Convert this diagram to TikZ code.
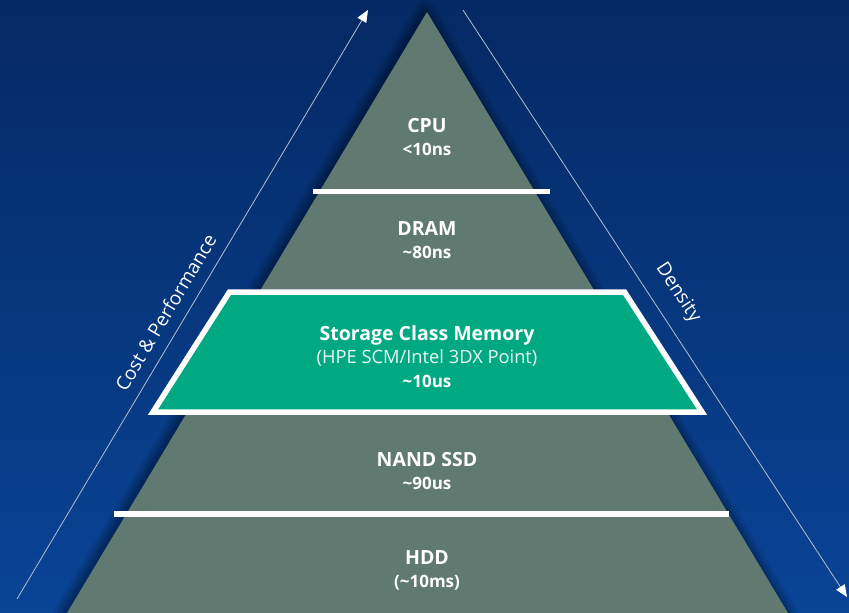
\documentclass[tikz,border=0pt]{standalone}
\usepackage{fontspec}
\setmainfont{Open Sans}
\usepackage{xcolor}
\usetikzlibrary{arrows.meta, positioning}

\definecolor{bgtop}{RGB}{5,41,100}
\definecolor{bgbot}{RGB}{9,68,150}
\definecolor{pyrgray}{RGB}{96,122,114}
\definecolor{scmgreen}{RGB}{1,169,130}

\begin{document}
\begin{tikzpicture}[
x=1pt, y=-1pt,
node distance = 11pt,
tier/.style = {text=white, inner sep=0pt, text height=14pt, text depth=0pt,
               font=\fontsize{19.5}{22}\selectfont\bfseries},
sub/.style = {text=white, inner sep=0pt, text height=12pt, text depth=0pt,
              font=\fontsize{17}{20}\selectfont\bfseries},
subreg/.style = {sub, text=white!92!scmgreen, font=\fontsize{18.3}{20}\selectfont},
axis/.style = {draw=white!70!bgtop, line width=0.8pt,
               -{Triangle[length=12pt, width=10pt, color=white]}},
axislabel/.style = {text=white, inner sep=0pt, sloped,
                    font=\fontsize{19}{22}\selectfont},
bar/.style = {draw=white, line width=5pt},
                        ]
\useasboundingbox (0,0) rectangle (849,613);
\fill[top color=bgtop, bottom color=bgbot] (0,0) rectangle (849,613);

\coordinate (apex)  at (427,12);
\coordinate (baseL) at (67,613);
\coordinate (baseR) at (788,613);

% soft shadow round the pyramid
\foreach \w in {22,16,11,7,4}
  \draw[black, opacity=0.08, line width=\w pt, line join=round]
    ([xshift=-2pt]apex) -- ([xshift=-2pt]baseL) -- ([xshift=-2pt]baseR) -- cycle;
\fill[pyrgray] (apex) -- (baseL) -- (baseR) -- cycle;

\draw[bar] (313,191) -- (550,191);
\draw[bar, line width=6pt] (114,514) -- (729,514);

\draw[draw=white, fill=scmgreen, line width=5.5pt, line join=miter]
  (229.5,292) -- (624.5,292) -- (702,412) -- (153,412) -- cycle;

\node (cpu)   [tier, anchor=base] at (427,132)   {CPU};
\node (cpuT)  [sub, below=of cpu]                {<10ns};
\node (dram)  [tier, anchor=base] at (427,235)   {DRAM};
\node (dramT) [sub, below=of dram]               {\textasciitilde80ns};
\node (scm)   [tier, anchor=base] at (427,340.5) {Storage Class Memory};
\node (scmN)  [subreg, below=of scm]             {(HPE SCM/Intel 3DX Point)};
\node (scmT)  [sub, below=of scmN]               {\textasciitilde10us};
\node (nand)  [tier, anchor=base] at (427,466)   {NAND SSD};
\node (nandT) [sub, below=of nand]               {\textasciitilde90us};
\node (hdd)   [tier, anchor=base] at (427,564)   {HDD};
\node (hddT)  [sub, below=of hdd]                {(\textasciitilde10ms)};

\coordinate (costA) at (17,599);
\coordinate (costB) at (368,10);
\coordinate (densA) at (463,10);
\coordinate (densB) at (847,597);

\draw[axis] (costA) -- (costB)
  node (cost) [axislabel, pos=0.47, yshift=19pt] {Cost \& Performance};
\draw[axis] (densA) -- (densB)
  node (dens) [axislabel, pos=0.505, yshift=25pt] {Density};
\end{tikzpicture}
\end{document}
